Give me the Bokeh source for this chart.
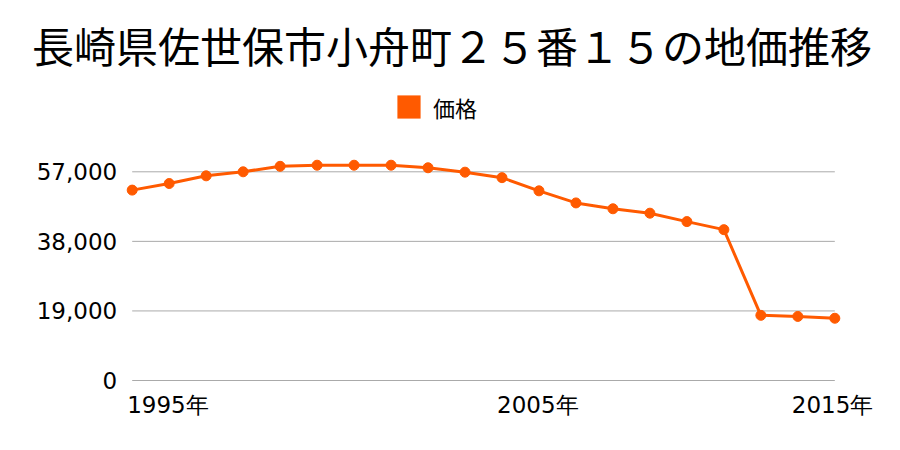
from bokeh.plotting import figure
from bokeh.models import Range1d, Label, Legend, LegendItem, ColumnDataSource
from bokeh.core.properties import value
from bokeh.embed import file_html
from bokeh.resources import INLINE

# ---- data ----
title_text = "長崎県佐世保市小舟町２５番１５の地価推移"
series_name = "価格"
years = [1995, 1996, 1997, 1998, 1999, 2000, 2001, 2002, 2003, 2004,
         2005, 2006, 2007, 2008, 2009, 2010, 2011, 2012, 2013, 2014]
prices = [52000, 53800, 55900, 57000, 58500, 58800, 58800, 58800, 58100, 56900,
          55400, 51800, 48500, 46900, 45700, 43400, 41200, 17800, 17500, 17000]
y_ticks = [0, 19000, 38000, 57000]
y_tick_labels = ["0", "19,000", "38,000", "57,000"]
x_tick_years = [1995, 2005, 2015]
x_tick_labels = ["1995年", "2005年", "2015年"]

# ---- layout (pixels) ----
W, H = 900, 450
PX_FIRST = 131.7      # pixel x of first year
PX_PER_YEAR = 36.98
PX_ZERO_FROM_BOTTOM = 70.0
VAL_PER_PX = 273.12

ORANGE = "#ff5a00"
GRID = "#aaaaaa"
CJK = "Noto Sans CJK JP"
NUM = "DejaVu Sans"

x_start = years[0] - PX_FIRST / PX_PER_YEAR
y_start = -PX_ZERO_FROM_BOTTOM * VAL_PER_PX

p = figure(width=W, height=H, output_backend="svg", toolbar_location=None,
           x_range=Range1d(x_start, x_start + W / PX_PER_YEAR),
           y_range=Range1d(y_start, y_start + H * VAL_PER_PX),
           x_axis_location=None, y_axis_location=None,
           min_border=0)
p.outline_line_color = None
p.xgrid.visible = False
p.ygrid.visible = False

# horizontal grid lines spanning the data
p.segment(x0=[years[0]] * len(y_ticks), x1=[years[-1]] * len(y_ticks),
          y0=y_ticks, y1=y_ticks, line_color=GRID, line_width=1)

# y tick labels
p.text(x=[years[0]] * len(y_ticks), y=y_ticks, text=y_tick_labels,
       x_offset=-15, text_align="right", text_baseline="middle",
       text_font=value(NUM), text_font_size="23px", text_color="#000000")

# series
src = ColumnDataSource(dict(year=years, price=prices))
p.line("year", "price", source=src, line_color=ORANGE, line_width=3)
p.scatter("year", "price", source=src, size=10, marker="circle",
          fill_color=ORANGE, line_color=ORANGE)

# legend swatch renderer (zero-area quad on the first point, only used for the legend glyph)
sw = p.quad(left=[years[0]], right=[years[0]], top=[prices[0]], bottom=[prices[0]],
            fill_color=ORANGE, line_color=None)
legend = Legend(items=[LegendItem(label=series_name, renderers=[sw])],
                location=(394.1, H - 122.5),
                orientation="horizontal", glyph_width=29, glyph_height=29,
                label_height=29, label_standoff=10, padding=0, margin=0,
                border_line_color=None, background_fill_alpha=0,
                label_text_font=CJK, label_text_font_size="22px",
                label_text_color="#000000", label_text_baseline="middle")
p.add_layout(legend, "center")

# title
p.add_layout(Label(x=451.5, y=H - 44, x_units="screen", y_units="screen",
                   text=title_text, text_font=CJK, text_font_size="42px",
                   text_align="center", text_baseline="middle", text_color="#000000"))

# x tick labels
for i, (yr, lab) in enumerate(zip(x_tick_years, x_tick_labels)):
    last = i == len(x_tick_years) - 1
    p.add_layout(Label(x=yr, y=H - 404.5, x_units="data", y_units="screen",
                       x_offset=(1.5 if last else -5),
                       text=lab, text_font=NUM, text_font_size="23px",
                       text_align=("right" if last else "left"),
                       text_baseline="middle", text_color="#000000"))

open("out.html", "w").write(file_html(p, INLINE))
